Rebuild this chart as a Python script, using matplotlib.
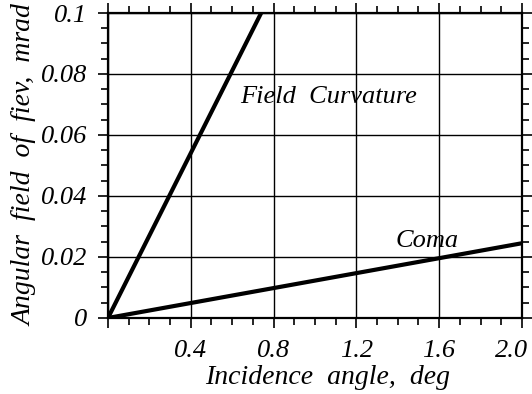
import matplotlib
matplotlib.use("Agg")
import matplotlib.pyplot as plt
from matplotlib import font_manager as fm
from matplotlib.ticker import MultipleLocator, FixedLocator
import matplotlib.transforms as mtransforms

# Data
fc_x = [0.0, 0.74]
fc_y = [0.0, 0.10]
coma_x = [0.0, 2.0]
coma_y = [0.0, 0.0245]
xtick_vals = [0.4, 0.8, 1.2, 1.6, 2.0]
xtick_labels = ["0.4", "0.8", "1.2", "1.6", "2.0"]
ytick_vals = [0, 0.02, 0.04, 0.06, 0.08, 0.1]
ytick_labels = ["0", "0.02", "0.04", "0.06", "0.08", "0.1"]

# Find an italic Times-like font file
ital = None
for f in fm.fontManager.ttflist:
    if f.name == 'Liberation Serif' and f.style == 'italic' and f.weight in (400, 'normal', 'regular'):
        ital = f.fname
if ital is None:
    for f in fm.fontManager.ttflist:
        if 'LiberationSerif-Italic' in f.fname:
            ital = f.fname
FP = dict(fname=ital) if ital else dict(family='serif', style='italic')

def fp(size):
    return fm.FontProperties(size=size, **FP)

fig = plt.figure(figsize=(5.32, 3.94), dpi=100)
ax = fig.add_axes([0.203, 0.193, 0.778, 0.774])

ax.plot(fc_x, fc_y, color='black', lw=3, solid_capstyle='butt')
ax.plot(coma_x, coma_y, color='black', lw=3, solid_capstyle='butt')

ax.set_xlim(0, 2.0)
ax.set_ylim(0, 0.1)

ax.xaxis.set_major_locator(FixedLocator([0] + xtick_vals))
ax.set_xticklabels([""] + xtick_labels)
ax.xaxis.set_minor_locator(MultipleLocator(0.1))
ax.yaxis.set_major_locator(FixedLocator(ytick_vals))
ax.set_yticklabels(ytick_labels)
ax.yaxis.set_minor_locator(MultipleLocator(0.005))

ax.grid(True, which='major', color='black', lw=1)
for s in ax.spines.values():
    s.set_linewidth(1.6)

ax.tick_params(which='both', direction='out', top=True, right=True, color='black')
ax.tick_params(which='major', length=7, width=1.2)
ax.tick_params(which='minor', length=5, width=1.2)
ax.tick_params(axis='x', pad=9)
ax.tick_params(axis='y', pad=8)
for lab in ax.get_xticklabels() + ax.get_yticklabels():
    lab.set_fontproperties(fp(19))

last = ax.get_xticklabels()[-1]
last.set_transform(last.get_transform() + mtransforms.ScaledTranslation(-10/100, 0, fig.dpi_scale_trans))

ax.set_xlabel("Incidence  angle,  deg", fontproperties=fp(20), labelpad=0)
ax.xaxis.set_label_coords(0.53, -0.155)
ax.set_ylabel("Angular  field  of  fiev,  mrad", fontproperties=fp(20), labelpad=2)

ax.text(0.64, 0.0725, "Field  Curvature", fontproperties=fp(19), va='center', ha='left')
ax.text(1.39, 0.0252, "Coma", fontproperties=fp(19), va='center', ha='left')

fig.savefig("out.png", dpi=100)
